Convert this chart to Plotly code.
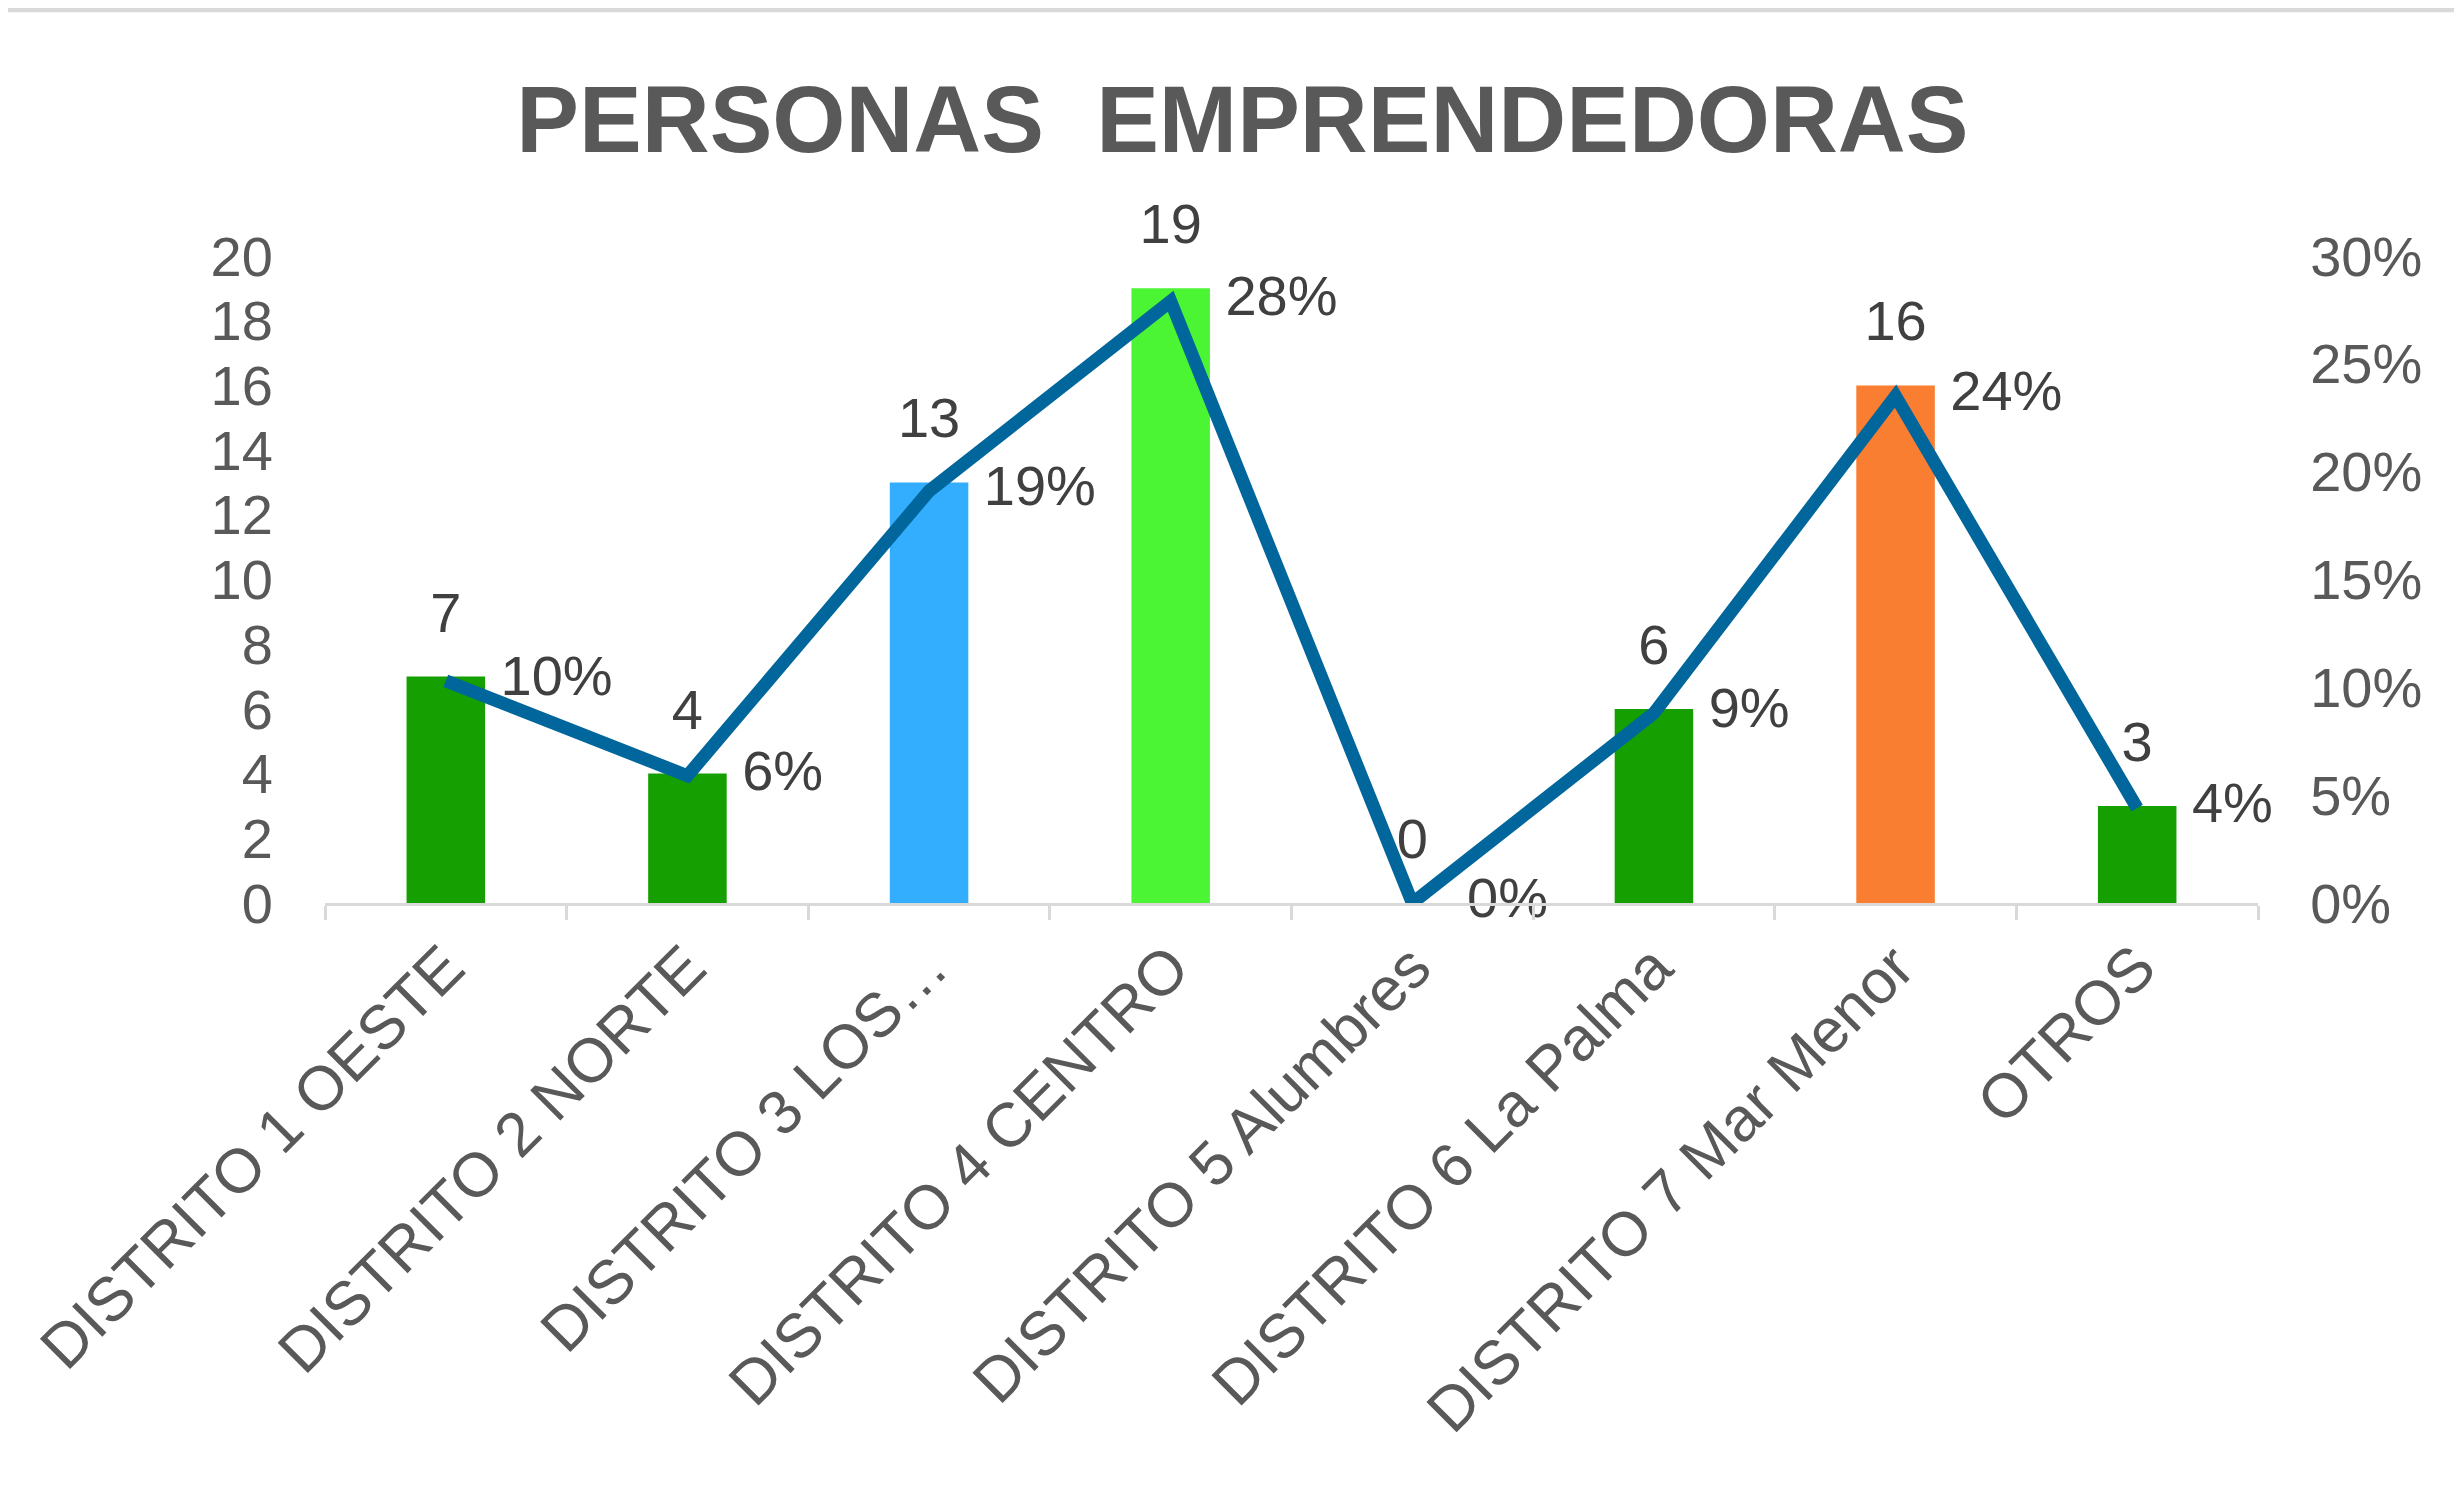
import plotly.graph_objects as go

categories = ['DISTRITO 1 OESTE', 'DISTRITO 2 NORTE', 'DISTRITO 3 LOS…', 'DISTRITO 4 CENTRO',
              'DISTRITO 5 Alumbres', 'DISTRITO 6 La Palma', 'DISTRITO 7 Mar Menor', 'OTROS']
counts = [7, 4, 13, 19, 0, 6, 16, 3]
shares = [0.103, 0.059, 0.191, 0.279, 0.0, 0.088, 0.235, 0.044]
share_labels = ['10%', '6%', '19%', '28%', '0%', '9%', '24%', '4%']
bar_colors = ['#169f00', '#169f00', '#33aeff', '#4cf533', '#169f00', '#169f00', '#f97e31', '#169f00']

FONT = 'Liberation Sans, Arial, sans-serif'
AXIS_GREY = '#595959'
LABEL_GREY = '#404040'

fig = go.Figure()

fig.add_trace(go.Bar(
    x=categories, y=counts,
    marker_color=bar_colors, marker_line_width=0,
    hoverinfo='skip'
))

# count labels above the bars
fig.add_trace(go.Scatter(
    x=categories, y=counts,
    mode='markers+text',
    text=[str(c) for c in counts],
    textposition='top center',
    textfont=dict(family=FONT, size=56, color=LABEL_GREY),
    marker=dict(size=48, color='rgba(0,0,0,0)', line_width=0),
    cliponaxis=False,
    hoverinfo='skip'
))

# share line on the right axis
fig.add_trace(go.Scatter(
    x=categories, y=shares, yaxis='y2',
    mode='lines+markers+text',
    line=dict(color='#00669b', width=13),
    marker=dict(size=86, color='rgba(0,0,0,0)', line_width=0),
    text=share_labels,
    textposition='middle right',
    textfont=dict(family=FONT, size=56, color=LABEL_GREY),
    cliponaxis=False,
    hoverinfo='skip'
))

fig.update_layout(
    width=2454, height=1485,
    paper_bgcolor='white', plot_bgcolor='white',
    showlegend=False,
    bargap=0.675,
    margin=dict(l=317, r=204, t=248, b=590),
    title=dict(
        text='<b>PERSONAS  EMPRENDEDORAS</b>',
        x=0.503, xanchor='center', y=0.925, yanchor='middle',
        font=dict(family=FONT, size=94, color=AXIS_GREY)
    ),
    xaxis=dict(
        range=[-0.5, 7.5],
        tickangle=-45,
        tickfont=dict(family=FONT, size=62, color=AXIS_GREY),
        showline=True, linecolor='#d9d9d9', linewidth=3,
        ticks='outside', tickson='boundaries', ticklen=14, tickcolor='#d9d9d9', tickwidth=3,
        showgrid=False
    ),
    yaxis=dict(
        range=[0, 20], dtick=2,
        tickfont=dict(family=FONT, size=56, color=AXIS_GREY),
        showgrid=False, zeroline=False, showline=False,
        ticks='outside', ticklen=40, tickcolor='rgba(0,0,0,0)'
    ),
    yaxis2=dict(
        range=[0, 0.30], dtick=0.05, tickformat='.0%',
        overlaying='y', side='right',
        tickfont=dict(family=FONT, size=56, color=AXIS_GREY),
        showgrid=False, zeroline=False, showline=False,
        ticks='outside', ticklen=40, tickcolor='rgba(0,0,0,0)'
    ),
    shapes=[
        dict(type='line', xref='paper', yref='paper', x0=-0.2, x1=1.2,
             y0=1.382, y1=1.382, line=dict(color='#d9d9d9', width=7)),
    ]
)

fig.write_html('out.html')
